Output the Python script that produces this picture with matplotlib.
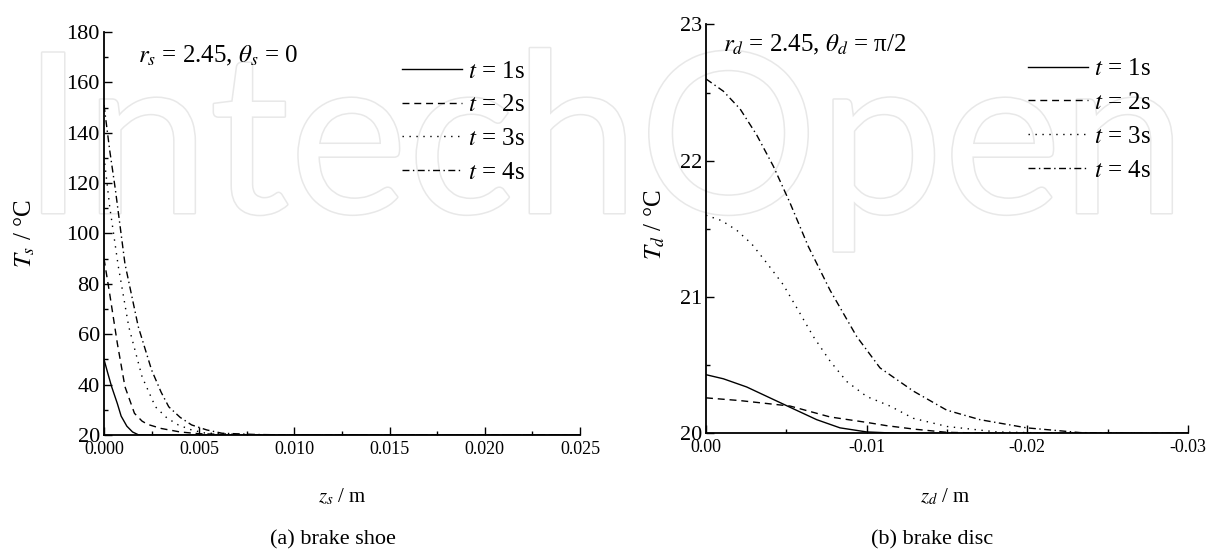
import matplotlib
matplotlib.use('Agg')
import matplotlib.pyplot as plt
import matplotlib.patheffects as pe
from matplotlib.ticker import MultipleLocator, FormatStrFormatter
from matplotlib.lines import Line2D

plt.rcParams['font.family'] = ['Liberation Serif', 'DejaVu Serif']
plt.rcParams['mathtext.fontset'] = 'stix'
plt.rcParams['axes.unicode_minus'] = False

# brake shoe, r_s = 2.45, theta_s = 0
shoe_z1 = [0, 0.0002, 0.0004, 0.0007, 0.0009, 0.0012, 0.0015, 0.0018, 0.0025, 0.025]
shoe_T1 = [50, 44.5, 39.2, 32.5, 27.5, 23.5, 21.2, 20.1, 20.0, 20.0]
shoe_z2 = [0, 0.0003, 0.0007, 0.0011, 0.0016, 0.0020, 0.0023, 0.003, 0.004, 0.005, 0.007, 0.025]
shoe_T2 = [90, 76, 56.4, 39.2, 28.6, 25.5, 24.2, 22.6, 21.2, 20.5, 20.1, 20.0]
shoe_z3 = [0, 0.0003, 0.00075, 0.0013, 0.002, 0.0027, 0.0033, 0.0039, 0.0046, 0.0053, 0.007, 0.009, 0.025]
shoe_T3 = [130.5, 110.6, 87, 63, 43.1, 31.2, 26.8, 24, 22, 20.8, 20.2, 20.0, 20.0]
shoe_z4 = [0, 0.0003, 0.0006, 0.0011, 0.0018, 0.0025, 0.0030, 0.0034, 0.0040, 0.0046, 0.0054, 0.0062, 0.008, 0.010, 0.025]
shoe_T4 = [151, 133, 117.3, 88, 63, 45.8, 37, 31.2, 27, 24, 22, 20.7, 20.2, 20.0, 20.0]

# brake disc, r_d = 2.45, theta_d = pi/2
disc_z1 = [0, -0.00108, -0.00253, -0.00398, -0.00543, -0.00689, -0.00834, -0.010, -0.012, -0.03]
disc_T1 = [20.43, 20.40, 20.34, 20.26, 20.18, 20.10, 20.04, 20.01, 20.0, 20.0]
disc_z2 = [0, -0.00212, -0.00523, -0.00772, -0.010, -0.01124, -0.013, -0.015, -0.018, -0.03]
disc_T2 = [20.26, 20.24, 20.20, 20.12, 20.08, 20.056, 20.03, 20.007, 20.0, 20.0]
disc_z3 = [0, -0.00098, -0.00191, -0.00284, -0.00378, -0.00481, -0.00575, -0.00668,
           -0.00772, -0.00876, -0.010, -0.01145, -0.0129, -0.0150, -0.0181, -0.022, -0.03]
disc_T3 = [21.60, 21.56, 21.49, 21.39, 21.25, 21.09, 20.90, 20.71,
           20.53, 20.38, 20.27, 20.20, 20.11, 20.05, 20.01, 20.0, 20.0]
disc_z4 = [0, -0.00108, -0.00212, -0.00315, -0.00419, -0.00523, -0.00637, -0.00772,
           -0.00938, -0.01083, -0.0129, -0.01498, -0.01705, -0.01996, -0.0233, -0.027, -0.03]
disc_T4 = [22.60, 22.51, 22.38, 22.19, 21.96, 21.69, 21.37, 21.05,
           20.71, 20.48, 20.31, 20.17, 20.10, 20.04, 20.005, 20.0, 20.0]

labels = ['$t$ = 1s', '$t$ = 2s', '$t$ = 3s', '$t$ = 4s']
styles = ['-', (0, (5, 3.5)), (0, (1, 4)), (0, (5, 2.5, 1, 2.5))]

fig = plt.figure(figsize=(12.25, 5.57), dpi=100)

# faint publisher mark behind both panels
fig.text(0.493, 0.6176, 'IntechOpen', family='Lato', fontsize=161, color='white',
         ha='center', va='baseline', zorder=-5,
         path_effects=[pe.withStroke(linewidth=2.2, foreground='#e8e8e8')])

ax1 = fig.add_axes([104 / 1225, 1 - 435 / 557, 476 / 1225, 403 / 557])
ax2 = fig.add_axes([706 / 1225, 1 - 433.3 / 557, 482 / 1225, 408.9 / 557])

shoe = [(shoe_z1, shoe_T1), (shoe_z2, shoe_T2), (shoe_z3, shoe_T3), (shoe_z4, shoe_T4)]
disc = [(disc_z1, disc_T1), (disc_z2, disc_T2), (disc_z3, disc_T3), (disc_z4, disc_T4)]
for (z, T), ls in zip(shoe, styles):
    ax1.plot(z, T, color='black', lw=1.0, linestyle=ls)
for (z, T), ls in zip(disc, styles):
    ax2.plot(z, T, color='black', lw=1.0, linestyle=ls)

ax1.set_xlim(0, 0.025)
ax1.set_ylim(20, 180)
ax1.xaxis.set_major_locator(MultipleLocator(0.005))
ax1.xaxis.set_minor_locator(MultipleLocator(0.0025))
ax1.yaxis.set_major_locator(MultipleLocator(20))
ax1.yaxis.set_minor_locator(MultipleLocator(10))
ax1.xaxis.set_major_formatter(FormatStrFormatter('%.3f'))

ax2.set_xlim(0, -0.03)
ax2.set_ylim(20, 23)
ax2.xaxis.set_major_locator(MultipleLocator(0.01))
ax2.xaxis.set_minor_locator(MultipleLocator(0.005))
ax2.yaxis.set_major_locator(MultipleLocator(1))
ax2.yaxis.set_minor_locator(MultipleLocator(0.5))
ax2.xaxis.set_major_formatter(FormatStrFormatter('%.2f'))

for ax in (ax1, ax2):
    ax.set_facecolor('none')
    for side in ('top', 'right'):
        ax.spines[side].set_visible(False)
    for side in ('left', 'bottom'):
        ax.spines[side].set_linewidth(1.3)
    ax.tick_params(which='both', direction='in', width=1.0)
    ax.tick_params(which='major', length=5.5)
    ax.tick_params(which='minor', length=3)
    ax.tick_params(axis='y', labelsize=16, pad=3)
    ax.tick_params(axis='x', labelsize=13, pad=4)
    handles = [Line2D([], [], color='black', lw=1.0, linestyle=ls) for ls in styles]
    ax.legend(handles, labels, frameon=False, fontsize=18, handlelength=2.4,
              handletextpad=0.25, labelspacing=0.45, borderpad=0, borderaxespad=0,
              loc='upper left',
              bbox_to_anchor=(0.626, 0.93) if ax is ax1 else (0.668, 0.918))

ax1.set_xlabel('$z_s$ / m', fontsize=15)
ax1.set_ylabel('$T_s$ / °C', fontsize=18)
ax1.xaxis.set_label_coords(0.5, -0.129)
ax1.yaxis.set_label_coords(-0.141, 0.5)
ax1.text(0.071, 0.94, r'$r_s$ = 2.45, $\theta_s$ = 0', transform=ax1.transAxes,
         fontsize=18, va='center', ha='left')

ax2.set_xlabel('$z_d$ / m', fontsize=15)
ax2.set_ylabel('$T_d$ / °C', fontsize=18)
ax2.xaxis.set_label_coords(0.496, -0.131)
ax2.yaxis.set_label_coords(-0.081, 0.51)
ax2.text(0.035, 0.95, r'$r_d$ = 2.45, $\theta_d$ = π/2', transform=ax2.transAxes,
         fontsize=18, va='center', ha='left')

fig.text(333 / 1225, 1 - 540 / 557, '(a) brake shoe', fontsize=16, ha='center', va='center')
fig.text(932 / 1225, 1 - 540 / 557, '(b) brake disc', fontsize=16, ha='center', va='center')

fig.savefig('out.png', dpi=100)
